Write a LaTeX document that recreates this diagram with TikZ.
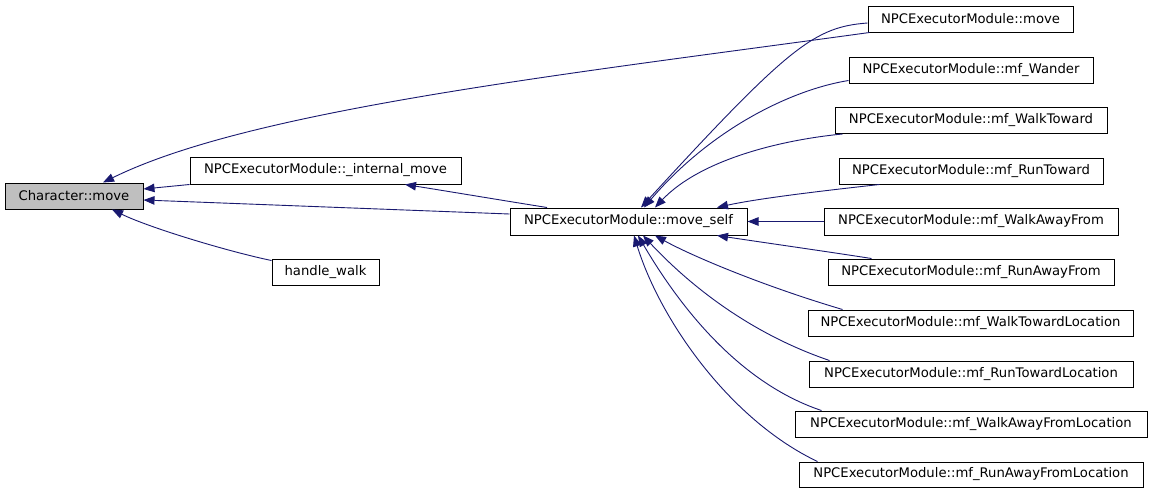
\documentclass[tikz,border=0pt]{standalone}
\usepackage{fontspec}
\setmainfont{DejaVu Sans}
\usetikzlibrary{arrows.meta}
\definecolor{edgeblue}{HTML}{191970}
\definecolor{hlgray}{HTML}{BFBFBF}
\tikzset{
  fbox/.style={draw=black, line width=1pt, minimum height=26pt, inner sep=0pt,
    font=\fontsize{13.2}{16}\selectfont, fill=white},
  edge/.style={draw=edgeblue, line width=0.9pt,
    -{Triangle[length=11pt,width=8.5pt]}},
}
\begin{document}
\begin{tikzpicture}[x=1pt,y=-1pt]
\useasboundingbox (0,0) rectangle (1152,493);
\fill[white] (0,0) rectangle (1152,493);
% nodes
\node[fbox, fill=hlgray, minimum width=138pt] (ch) at (74,196) {Character::move};
\node[fbox, minimum width=271pt, minimum height=27pt] (im) at (325.5,170.5) {NPCExecutorModule::\_internal\_move};
\node[fbox, minimum width=107pt] (hw) at (325.5,272) {handle\_walk};
\node[fbox, minimum width=237pt, minimum height=27pt] (ms) at (628.5,221.5) {NPCExecutorModule::move\_self};
\node[fbox, minimum width=205pt] (mv) at (970.5,19) {NPCExecutorModule::move};
\node[fbox, minimum width=244pt] (wa) at (971,70) {NPCExecutorModule::mf\_Wander};
\node[fbox, minimum width=272pt] (wt) at (971,120.5) {NPCExecutorModule::mf\_WalkToward};
\node[fbox, minimum width=264pt] (rt) at (971,171) {NPCExecutorModule::mf\_RunToward};
\node[fbox, minimum width=294pt, minimum height=27pt] (waf) at (971,221.5) {NPCExecutorModule::mf\_WalkAwayFrom};
\node[fbox, minimum width=286pt] (raf) at (971,272) {NPCExecutorModule::mf\_RunAwayFrom};
\node[fbox, minimum width=325pt] (wtl) at (970.5,323) {NPCExecutorModule::mf\_WalkTowardLocation};
\node[fbox, minimum width=324pt] (rtl) at (971,374) {NPCExecutorModule::mf\_RunTowardLocation};
\node[fbox, minimum width=352pt] (wafl) at (971,424) {NPCExecutorModule::mf\_WalkAwayFromLocation};
\node[fbox, minimum width=344pt, minimum height=25pt] (rafl) at (971,474.5) {NPCExecutorModule::mf\_RunAwayFromLocation};
% edges to Character::move
\draw[edge] ([xshift=2]mv.south west) .. controls (560,75) and (250,110) .. ([xshift=29]ch.north);
\draw[edge] (im.south west) -- ([yshift=7]ch.east);
\draw[edge] ([yshift=7.5]ms.west) -- ([yshift=-4]ch.east);
\draw[edge] ([yshift=-2]hw.north west) .. controls (230,252) and (150,228) .. ([xshift=38]ch.south);
% edge to _internal_move
\draw[edge] ([xshift=-81.5]ms.north) .. controls (500,200) and (440,190) .. ([xshift=79.5]im.south);
% edges to move_self
\draw[edge] ([yshift=-4]mv.west) .. controls (815,27) and (790,45) .. ([xshift=12.5]ms.north);
\draw[edge] ([yshift=3]wa.south west) .. controls (790,90) and (710,130) .. ([xshift=15.5]ms.north);
\draw[edge] ([xshift=8]wt.south west) .. controls (780,140) and (700,160) .. ([xshift=26.5]ms.north);
\draw[edge] ([xshift=41]rt.south west) .. controls (830,190) and (760,198) .. ([xshift=88.5]ms.north);
\draw[edge] (waf.west) -- (ms.east);
\draw[edge] ([xshift=44]raf.north west) .. controls (830,252) and (760,242) .. ([xshift=88.5]ms.south);
\draw[edge] ([xshift=35]wtl.north west) .. controls (760,285) and (690,255) .. ([xshift=26.5]ms.south);
\draw[edge] ([xshift=21]rtl.north west) .. controls (740,330) and (680,275) .. ([xshift=14.5]ms.south);
\draw[edge] ([xshift=27]wafl.north west) .. controls (730,380) and (670,290) .. ([xshift=9.5]ms.south);
\draw[edge] ([xshift=19]rafl.north west) .. controls (730,420) and (660,320) .. ([xshift=5.5]ms.south);
\end{tikzpicture}
\end{document}
